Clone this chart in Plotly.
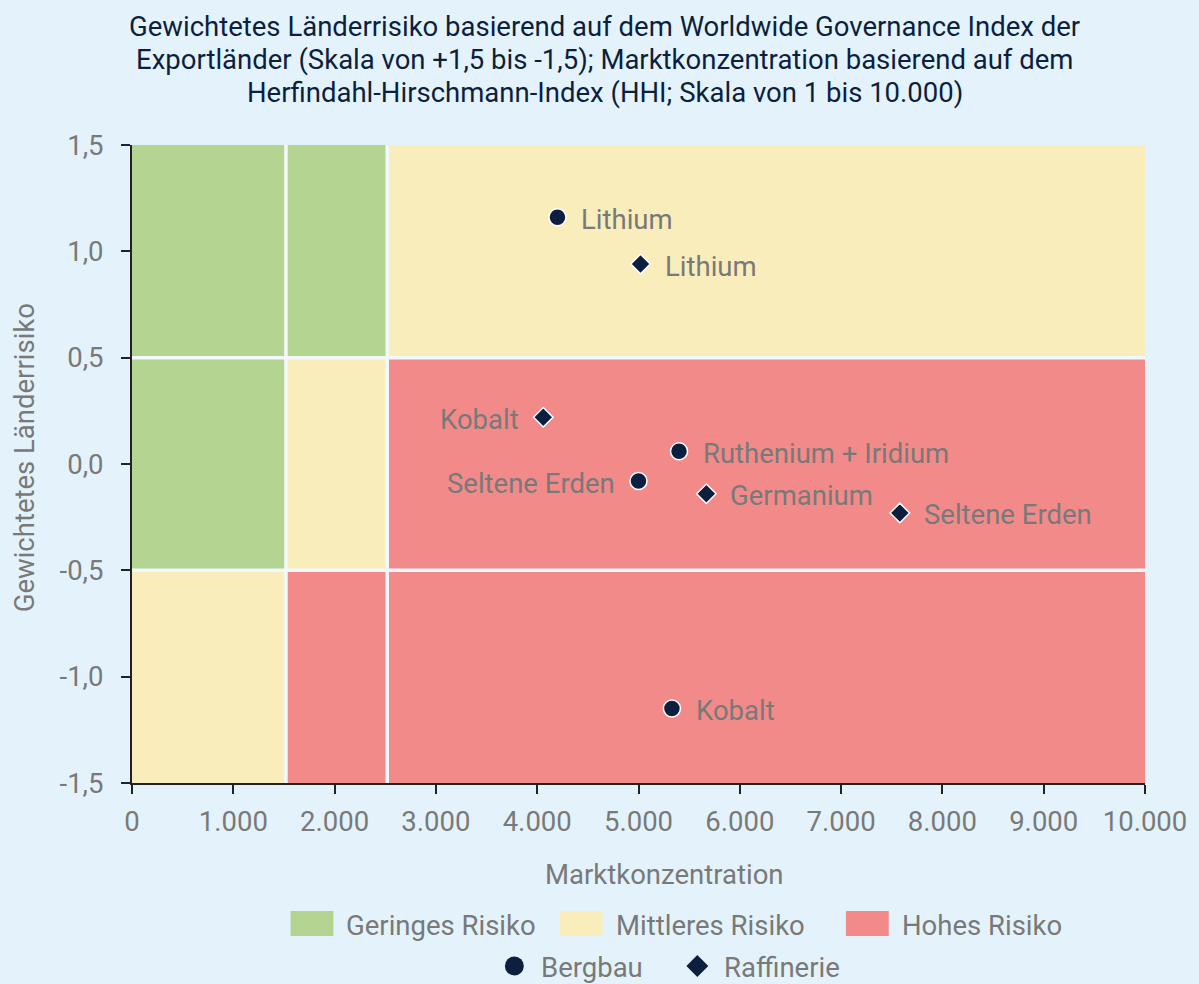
import plotly.graph_objects as go

# ---------------- data ----------------
bergbau_names = ["Lithium", "Ruthenium + Iridium", "Seltene Erden", "Kobalt"]
bergbau_x = [4200, 5400, 5000, 5330]
bergbau_y = [1.16, 0.06, -0.08, -1.15]
bergbau_side = ["right", "right", "left", "right"]

raff_names = ["Lithium", "Kobalt", "Germanium", "Seltene Erden"]
raff_x = [5020, 4060, 5670, 7580]
raff_y = [0.94, 0.22, -0.14, -0.23]
raff_side = ["right", "left", "right", "right"]

# risk matrix
x_bounds = [0, 1500, 2500, 10000]
y_bounds = [-1.5, -0.5, 0.5, 1.5]
# rows from bottom to top, columns from left to right
risk_matrix = [
    ["Mittleres Risiko", "Hohes Risiko", "Hohes Risiko"],
    ["Geringes Risiko", "Mittleres Risiko", "Hohes Risiko"],
    ["Geringes Risiko", "Geringes Risiko", "Mittleres Risiko"],
]
risk_categories = ["Geringes Risiko", "Mittleres Risiko", "Hohes Risiko"]

x_ticks = [0, 1000, 2000, 3000, 4000, 5000, 6000, 7000, 8000, 9000, 10000]
x_tick_labels = ["0", "1.000", "2.000", "3.000", "4.000", "5.000", "6.000",
                 "7.000", "8.000", "9.000", "10.000"]
y_ticks = [-1.5, -1.0, -0.5, 0.0, 0.5, 1.0, 1.5]
y_tick_labels = ["-1,5", "-1,0", "-0,5", "0,0", "0,5", "1,0", "1,5"]

title_lines = ["Gewichtetes Länderrisiko basierend auf dem Worldwide Governance Index der",
               "Exportländer (Skala von +1,5 bis -1,5); Marktkonzentration basierend auf dem",
               "Herfindahl-Hirschmann-Index (HHI; Skala von 1 bis 10.000)"]
x_title = "Marktkonzentration"
y_title = "Gewichtetes Länderrisiko"
series_names = ["Bergbau", "Raffinerie"]

# ---------------- style ----------------
W, H = 1199, 984
ML, MR, MT, MB = 132, 51, 145, 201
PW, PH = W - ML - MR, H - MT - MB
BG = "#e4f3fb"
NAVY = "#0c1f3e"
GRAY = "#797979"
AXIS = "#222222"
FONT = "Roboto"
FS = 27.5
risk_colors = {"Geringes Risiko": "#b3d591", "Mittleres Risiko": "#f9edbb", "Hohes Risiko": "#f28a8a"}
GAP = "#f2f9fd"
GAP_SHIFT_PX = 2
gap_shift = GAP_SHIFT_PX * (x_bounds[-1] - x_bounds[0]) / PW


def px(xp):
    return (xp - ML) / PW


def py(yp):
    return (H - MB - yp) / PH


def sx_shift(v):
    return v + gap_shift if v in x_bounds[1:-1] else v


fig = go.Figure()
shapes = []
annotations = []

# risk regions
for r in range(3):
    for c in range(3):
        shapes.append(dict(type="rect", xref="x", yref="y",
                           x0=sx_shift(x_bounds[c]), x1=sx_shift(x_bounds[c + 1]),
                           y0=y_bounds[r], y1=y_bounds[r + 1],
                           fillcolor=risk_colors[risk_matrix[r][c]],
                           line=dict(width=0), layer="below"))
for xv in x_bounds[1:-1]:
    shapes.append(dict(type="line", xref="x", yref="y", x0=sx_shift(xv), x1=sx_shift(xv),
                       y0=y_bounds[0], y1=y_bounds[-1],
                       line=dict(color=GAP, width=3.5), layer="below"))
for yv in y_bounds[1:-1]:
    shapes.append(dict(type="line", xref="x", yref="y", x0=x_bounds[0], x1=x_bounds[-1],
                       y0=yv, y1=yv, line=dict(color=GAP, width=3.5), layer="below"))

# points
fig.add_trace(go.Scatter(x=bergbau_x, y=bergbau_y, mode="markers", name=series_names[0],
                         marker=dict(symbol="circle", size=17, color=NAVY,
                                     line=dict(color="white", width=1.5)),
                         showlegend=False, cliponaxis=False))
fig.add_trace(go.Scatter(x=raff_x, y=raff_y, mode="markers", name=series_names[1],
                         marker=dict(symbol="diamond", size=15, color=NAVY,
                                     line=dict(color="white", width=1.5)),
                         showlegend=False, cliponaxis=False))

label_font = dict(family=FONT, size=FS, color=GRAY)
for names, xs, ys, sides in [(bergbau_names, bergbau_x, bergbau_y, bergbau_side),
                             (raff_names, raff_x, raff_y, raff_side)]:
    for n, xv, yv, s in zip(names, xs, ys, sides):
        annotations.append(dict(x=xv, y=yv, xref="x", yref="y", text=n, showarrow=False,
                                xanchor="left" if s == "right" else "right", yanchor="middle",
                                xshift=22 if s == "right" else -22, yshift=-2,
                                font=label_font))

# title (one annotation per line to control spacing)
for i, line in enumerate(title_lines):
    annotations.append(dict(x=px(606), y=py(26 + 33 * i), xref="paper", yref="paper", text=line,
                            showarrow=False, xanchor="center", yanchor="middle",
                            font=dict(family=FONT, size=FS, color=NAVY)))
# axis titles
annotations.append(dict(x=px(666), y=py(874), xref="paper", yref="paper", text=x_title,
                        showarrow=False, xanchor="center", yanchor="middle",
                        font=dict(family=FONT, size=FS, color=GRAY)))
annotations.append(dict(x=px(25), y=py(458), xref="paper", yref="paper", text=y_title,
                        showarrow=False, xanchor="center", yanchor="middle", textangle=-90,
                        font=dict(family=FONT, size=FS, color=GRAY)))

# legend row 1 (risk categories)
swatch_x = [291, 561, 848]
for cat, sx in zip(risk_categories, swatch_x):
    shapes.append(dict(type="rect", xref="paper", yref="paper",
                       x0=px(sx), x1=px(sx + 43), y0=py(936), y1=py(911),
                       fillcolor=risk_colors[cat], line=dict(width=0)))
    annotations.append(dict(x=px(sx + 54), y=py(925), xref="paper", yref="paper", text=cat,
                            showarrow=False, xanchor="left", yanchor="middle", font=label_font))
# legend row 2 (series)
sym_x = [515.5, 699]
symbols = ["circle", "diamond"]
LY = 966
for name, sx, sym in zip(series_names, sym_x, symbols):
    if sym == "circle":
        shapes.append(dict(type="circle", xref="paper", yref="paper",
                           x0=px(sx - 9.5), x1=px(sx + 9.5), y0=py(LY + 9.5), y1=py(LY - 9.5),
                           fillcolor=NAVY, line=dict(width=0)))
    else:
        d = 11
        path = (f"M {px(sx - d)},{py(LY)} L {px(sx)},{py(LY - d)} "
                f"L {px(sx + d)},{py(LY)} L {px(sx)},{py(LY + d)} Z")
        shapes.append(dict(type="path", xref="paper", yref="paper", path=path,
                           fillcolor=NAVY, line=dict(width=0)))
    annotations.append(dict(x=px(sx + 25), y=py(LY + 1), xref="paper", yref="paper", text=name,
                            showarrow=False, xanchor="left", yanchor="middle", font=label_font))

fig.update_layout(
    width=W, height=H,
    margin=dict(l=ML, r=MR, t=MT, b=MB),
    paper_bgcolor=BG, plot_bgcolor=BG,
    font=dict(family=FONT, color=GRAY),
    shapes=shapes, annotations=annotations,
    showlegend=False,
    xaxis=dict(range=[x_bounds[0], x_bounds[-1]], tickvals=x_ticks, ticktext=x_tick_labels,
               showgrid=False, zeroline=False, showline=True, linecolor=AXIS, linewidth=2,
               ticks="outside", ticklen=9, tickwidth=2, tickcolor=AXIS, ticklabelstandoff=4,
               tickfont=dict(family=FONT, size=FS, color=GRAY), fixedrange=True),
    yaxis=dict(range=[y_bounds[0], y_bounds[-1]], tickvals=y_ticks, ticktext=y_tick_labels,
               showgrid=False, zeroline=False, showline=True, linecolor=AXIS, linewidth=2,
               ticks="outside", ticklen=9, tickwidth=2, tickcolor=AXIS, ticklabelstandoff=12,
               tickfont=dict(family=FONT, size=FS, color=GRAY), fixedrange=True),
)

fig.write_html("out.html", config={"displayModeBar": False},
               post_script="document.body.style.margin='0';")
